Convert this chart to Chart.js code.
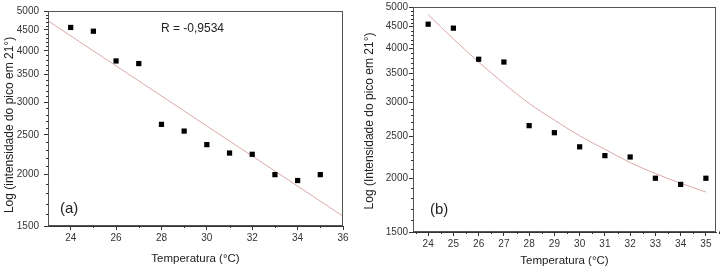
<!DOCTYPE html>
<html>
<head>
<meta charset="utf-8">
<script src="https://cdn.jsdelivr.net/npm/chart.js@4/dist/chart.umd.min.js"></script>
<style>
  html, body { margin: 0; padding: 0; background: #fff; }
  #wrap { position: relative; width: 725px; height: 272px; }
  canvas { position: absolute; top: 0; }
</style>
</head>
<body>
<div id="wrap">
  <canvas id="ca" width="362" height="272" style="left:0px"></canvas>
  <canvas id="cb" width="363" height="272" style="left:362px"></canvas>
</div>
<script>
// ---- data ----
const temperatures = [24, 25, 26, 27, 28, 29, 30, 31, 32, 33, 34, 35];
const intensity = [4560, 4465, 3780, 3725, 2650, 2552, 2366, 2257, 2241, 2000, 1935, 2000];
const linearFitX = [23, 36];
const linearFitY = [4733, 1585];
const expFitX = [24, 25, 26, 27, 28, 29, 30, 31, 32, 33, 34, 35];
const expFitY = [4800, 4215, 3725, 3320, 2985, 2730, 2510, 2335, 2175, 2050, 1948, 1857];
const yTickLabels = [1500, 2000, 2500, 3000, 3500, 4000, 4500, 5000];
const xTicksA = [24, 26, 28, 30, 32, 34, 36];
const xTicksB = [24, 25, 26, 27, 28, 29, 30, 31, 32, 33, 34, 35];
const rLabel = 'R = -0,9534';

const FONT = "'Liberation Sans', Arial, sans-serif";
const yMinor = [];
for (let v = 1600; v < 5000; v += 100) if (v % 500 !== 0) yMinor.push(v);
const xMinorA = [25, 27, 29, 31, 33, 35];
const xMinorB = [];
for (let v = 23.5; v <= 35.5; v += 1) xMinorB.push(v);

const pts = (xs, ys) => xs.map((x, i) => ({x, y: ys[i]}));

const decor = {
  id: 'decor',
  afterDraw(chart, args, opts) {
    const {ctx, chartArea: ca, scales} = chart;
    ctx.save();
    ctx.lineWidth = 1;
    ctx.strokeStyle = '#555';
    const L = Math.round(ca.left) + 0.5, T = Math.round(ca.top) + 0.5;
    const R = Math.round(ca.right) - 0.5, B = Math.round(ca.bottom) - 0.5;
    ctx.strokeRect(L, T, R - L, B - T);
    ctx.strokeStyle = '#333';
    ctx.beginPath();
    for (const v of opts.yMinor) {
      const py = Math.round(scales.y.getPixelForValue(v)) + 0.5;
      ctx.moveTo(L, py); ctx.lineTo(L - 2.5, py);
    }
    for (const v of opts.xMinor) {
      const px = Math.round(scales.x.getPixelForValue(v)) + 0.5;
      ctx.moveTo(px, B); ctx.lineTo(px, B + 2.5);
    }
    ctx.stroke();
    ctx.fillStyle = '#222';
    for (const t of opts.texts) {
      ctx.save();
      ctx.font = t.font;
      ctx.textBaseline = 'middle';
      ctx.textAlign = t.align || 'left';
      ctx.translate(t.x, t.y);
      if (t.rotate) ctx.rotate(t.rotate);
      ctx.fillText(t.text, 0, 0);
      ctx.restore();
    }
    ctx.restore();
  }
};

function makeChart(id, o) {
  return new Chart(document.getElementById(id), {
    type: 'scatter',
    data: {
      datasets: [
        {
          data: pts(temperatures, intensity),
          pointStyle: 'rect', pointRadius: 3.7,
          backgroundColor: '#000', borderColor: '#000', borderWidth: 0,
          showLine: false
        },
        {
          data: o.fit,
          showLine: true, pointRadius: 0,
          borderColor: 'rgb(218,168,168)', borderWidth: 1,
          tension: 0.4, cubicInterpolationMode: 'monotone'
        }
      ]
    },
    options: {
      responsive: false, animation: false, devicePixelRatio: 1,
      layout: { padding: o.padding },
      plugins: {
        legend: { display: false }, tooltip: { enabled: false },
        decor: { yMinor, xMinor: o.xMinor, texts: o.texts }
      },
      scales: {
        x: {
          type: 'linear', min: o.xMin, max: o.xMax,
          afterBuildTicks: s => { s.ticks = o.xTicks.map(v => ({value: v})); },
          afterFit: s => { s.height = o.xHeight; },
          ticks: { autoSkip: false, maxRotation: 0, padding: 2, color: '#333',
                   font: { family: FONT, size: 10 }, callback: v => String(v) },
          grid: { drawOnChartArea: false, drawTicks: true, tickLength: 4, tickColor: '#333' },
          border: { display: true, color: '#333' },
          title: { display: true, text: o.xTitle, color: '#222',
                   font: { family: FONT, size: 11.5 }, padding: { top: 0, bottom: o.xTitlePad } }
        },
        y: {
          type: 'logarithmic', min: 1500, max: 5000,
          afterBuildTicks: s => { s.ticks = yTickLabels.map(v => ({value: v})); },
          afterFit: s => { s.width = o.yWidth; },
          ticks: { autoSkip: false, padding: o.yPad, color: '#333',
                   font: { family: FONT, size: 10 }, callback: v => String(v) },
          grid: { drawOnChartArea: false, drawTicks: true, tickLength: 4, tickColor: '#333' },
          border: { display: true, color: '#333' }
        }
      }
    },
    plugins: [decor]
  });
}

makeChart('ca', {
  fit: pts(linearFitX, linearFitY),
  xMin: 23, xMax: 36, xTicks: xTicksA, xMinor: xMinorA,
  padding: { top: 7, right: 19, left: 0, bottom: 0 },
  xHeight: 46, yWidth: 48, yPad: 5, xTitlePad: 6,
  xTitle: 'Temperatura (°C)',
  texts: [
    { text: 'Log (intensidade do pico em 21°)', x: 10, y: 125, rotate: -Math.PI / 2,
      align: 'center', font: '12px ' + FONT },
    { text: rLabel, x: 161, y: 29, font: '12px ' + FONT },
    { text: '(a)', x: 60, y: 209, font: '15px ' + FONT }
  ]
});

makeChart('cb', {
  fit: pts(expFitX, expFitY),
  xMin: 23.4, xMax: 35.4, xTicks: xTicksB, xMinor: xMinorB,
  padding: { top: 6, right: 9, left: 0, bottom: 0 },
  xHeight: 40, yWidth: 51, yPad: 1, xTitlePad: 4,
  xTitle: 'Temperatura (°C)',
  texts: [
    { text: 'Log (Intensidade do pico em 21°)', x: 8, y: 121, rotate: -Math.PI / 2,
      align: 'center', font: '12px ' + FONT },
    { text: '(b)', x: 68, y: 210, font: '15px ' + FONT }
  ]
});
</script>
</body>
</html>
